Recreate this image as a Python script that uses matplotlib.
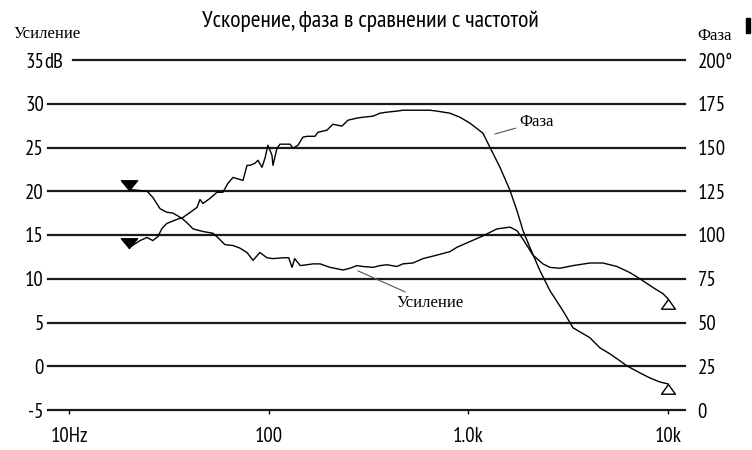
import matplotlib
matplotlib.use('Agg')
import matplotlib.pyplot as plt
from matplotlib.path import Path
from matplotlib.patches import Rectangle
from matplotlib import font_manager

# labels
title = 'Ускорение, фаза в сравнении с частотой'
gain_label = 'Усиление'
phase_label = 'Фаза'

freq_ticks = [10, 100, 1000, 10000]
freq_tick_labels = ['10Hz', '100', '1.0k', '10k']
db_ticks = [-5, 0, 5, 10, 15, 20, 25, 30, 35]
db_tick_labels = ['-5', '0', '5', '10', '15', '20', '25', '30', '35']
deg_ticks = [0, 25, 50, 75, 100, 125, 150, 175, 200]
deg_tick_labels = ['0', '25', '50', '75', '100', '125', '150', '175', '200°']

# gain (dB) vs frequency (Hz)
gain_freq = [20, 24.6, 26.3, 28.6, 30.9, 33.2, 36.8, 39.0, 41.8, 46.9,
             52.6, 55.7, 60.4, 66.3, 71.8, 77.9, 83.5, 90.4, 98.0, 105,
             118, 126, 131, 135, 144, 167, 181, 203, 236, 255,
             277, 297, 333, 361, 391, 439, 470, 528, 592, 696,
             809, 877, 940, 1055, 1183, 1391, 1616, 1751, 1855, 1965,
             2106, 2363, 2562, 2875, 3341, 4063, 4721, 5548, 6445, 7234,
             8402, 9429, 10000]
gain_db = [20.2, 20.0, 19.3, 18.0, 17.6, 17.5, 16.9, 16.4, 15.7, 15.4,
           15.2, 14.7, 13.9, 13.8, 13.5, 13.0, 12.1, 13.0, 12.4, 12.3,
           12.4, 12.4, 11.3, 12.3, 11.5, 11.7, 11.7, 11.3, 11.0, 11.2,
           11.5, 11.4, 11.3, 11.5, 11.6, 11.4, 11.7, 11.8, 12.3, 12.7,
           13.1, 13.6, 13.9, 14.4, 14.9, 15.7, 15.9, 15.5, 14.7, 13.8,
           12.7, 11.7, 11.3, 11.2, 11.5, 11.8, 11.8, 11.4, 10.7, 10.0,
           9.0, 8.3, 7.7]

# phase (degrees) vs frequency (Hz)
phase_freq = [20, 22.7, 24.6, 26.3, 27.9, 29.2, 30.9, 34.7, 37.2, 40.4,
              43.8, 45.3, 46.9, 50.8, 55.1, 59.0, 62.5, 66.3, 74.4, 77.9,
              80.6, 85.4, 88.4, 92.6, 95.8, 99.2, 103.9, 105.1, 110.1, 114.0,
              127.9, 132.3, 140.2, 148.5, 155.5, 170.5, 176.6, 195.9, 209.9, 232.8,
              249.5, 276.9, 296.8, 333.0, 360.9, 391.3, 439.2, 470.6, 552.8, 642.2,
              696.3, 808.9, 907.7, 1019, 1183, 1283, 1440, 1616, 1751, 1877,
              2035, 2284, 2562, 2977, 3341, 4063, 4560, 5118, 5742, 6226,
              7234, 8117, 9110, 10000]
phase_deg = [92.8, 96.8, 98.6, 96.8, 99.1, 103.7, 106.6, 108.9, 110.0, 112.9,
             115.8, 120.3, 118.0, 120.9, 124.4, 124.4, 129.5, 132.9, 131.2, 139.8,
             139.8, 141.0, 142.7, 138.7, 143.8, 151.3, 145.6, 139.8, 149.6, 151.9,
             151.9, 149.6, 151.3, 155.9, 156.4, 156.4, 158.7, 159.9, 163.3, 162.2,
             165.6, 166.8, 167.3, 167.9, 169.6, 170.2, 170.8, 171.3, 171.3, 171.3,
             170.8, 169.6, 167.3, 163.9, 158.2, 150.1, 138.7, 125.5, 114.0, 102.6,
             92.8, 79.6, 68.2, 56.7, 47.0, 41.3, 35.5, 32.1, 28.1, 25.2,
             21.2, 18.3, 16.0, 14.9]

# fonts: narrow sans for numbers/title, serif for the curve names
names = {f.name for f in font_manager.fontManager.ttflist}
narrow = [n for n in ['PT Sans Narrow', 'Roboto Condensed', 'Liberation Sans Narrow'] if n in names]
plt.rcParams['font.family'] = narrow + ['DejaVu Sans']
serif = ['Liberation Serif', 'DejaVu Serif']

# triangle markers with the tip on the point
tri_down = Path([(-0.5, 0.6), (0.5, 0.6), (0, 0), (-0.5, 0.6)],
                [Path.MOVETO, Path.LINETO, Path.LINETO, Path.CLOSEPOLY])
tri_up = Path([(-0.5, -0.7), (0.5, -0.7), (0, 0), (-0.5, -0.7)],
              [Path.MOVETO, Path.LINETO, Path.LINETO, Path.CLOSEPOLY])

fig = plt.figure(figsize=(7.52, 4.5), dpi=100)
ax = fig.add_axes([48 / 752, 40 / 450, 637 / 752, 350 / 450])
ax2 = ax.twinx()

ax.set_xscale('log')
ax.set_xlim(10 ** 0.895, 10 ** 4.085)
ax.set_ylim(-5, 35)
ax2.set_ylim(0, 200)

for a in (ax, ax2):
    for s in a.spines.values():
        s.set_visible(False)

# horizontal grid lines
for v in db_ticks:
    start = 0.039 if v == 35 else 0.0
    ax.axhline(v, xmin=start, xmax=1, color='#1a1a1a', lw=1.6, clip_on=False, zorder=1)

ax.plot(gain_freq, gain_db, color='black', lw=1.0, zorder=3)
ax2.plot(phase_freq, phase_deg, color='black', lw=1.0, zorder=3)

# start / end markers
ax.plot(gain_freq[0], gain_db[0], marker=tri_down, ms=14, color='black', ls='none', clip_on=False)
ax2.plot(phase_freq[0], phase_deg[0], marker=tri_down, ms=14, color='black', ls='none', clip_on=False)
ax.plot(gain_freq[-1], gain_db[-1], marker=tri_up, ms=14, mfc='white', mec='black', mew=1.0,
        ls='none', clip_on=False)
ax2.plot(phase_freq[-1], phase_deg[-1], marker=tri_up, ms=14, mfc='white', mec='black', mew=1.0,
         ls='none', clip_on=False)

# axes ticks
ax.set_xticks(freq_ticks)
ax.set_xticklabels(freq_tick_labels)
ax.minorticks_off()
ax.tick_params(axis='x', direction='out', length=3, width=1, pad=9, labelsize=15)
ax.set_yticks(db_ticks)
ax.set_yticklabels(db_tick_labels)
ax.tick_params(axis='y', length=0, pad=3, labelsize=15)
ax2.set_yticks(deg_ticks)
ax2.set_yticklabels(deg_tick_labels)
ax2.tick_params(axis='y', length=0, pad=9, labelsize=15)
ax.annotate('dB', xy=(0, 35), xycoords=('axes fraction', 'data'), xytext=(-3, 0),
            textcoords='offset points', ha='left', va='center_baseline', fontsize=15)

# curve labels
ax2.annotate(phase_label, xy=(1358, 157.7), xytext=(1810, 164.5), ha='left', va='center',
             family=serif, fontsize=12,
             arrowprops=dict(arrowstyle='-', color='#555555', lw=0.8, shrinkA=1, shrinkB=0))
ax.annotate(gain_label, xy=(280, 10.9), xytext=(439, 7.2), ha='left', va='center',
            family=serif, fontsize=12,
            arrowprops=dict(arrowstyle='-', color='#555555', lw=0.8, shrinkA=1, shrinkB=0))

# titles
fig.text(370 / 752, 1 - 21 / 450, title, ha='center', va='center', fontsize=17)
fig.text(47 / 752, 1 - 34 / 450, gain_label, ha='center', va='center', family=serif, fontsize=12)
fig.text(715 / 752, 1 - 36 / 450, phase_label, ha='center', va='center', family=serif, fontsize=12)

fig.patches.append(Rectangle((746 / 752, 1 - 33 / 450), 4 / 752, 15 / 450,
                             transform=fig.transFigure, color='black'))

fig.savefig('out.png', dpi=100)
